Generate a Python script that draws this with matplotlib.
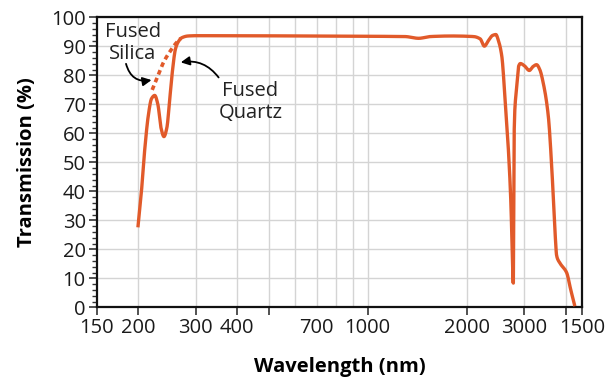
import matplotlib
matplotlib.use("Agg")
import matplotlib.pyplot as plt
import numpy as np

# fused quartz transmission curve (wavelength nm, %)
quartz_nm = [200, 205, 210, 215, 220, 225, 230, 235, 240, 245, 250, 255, 260, 265,
             272, 284, 300, 1000, 1300, 1430, 1550, 1800, 2100, 2200, 2265, 2330,
             2400, 2455, 2500, 2559, 2619, 2680, 2725, 2760, 2774, 2782, 2791, 2810,
             2830, 2860, 2880, 2915, 3000, 3104, 3180, 3266, 3340, 3420, 3545, 3630,
             3717, 3760, 3850, 4030, 4150, 4270]
quartz_t = [27.6, 40, 55, 66, 72, 73.1, 70, 62, 58.9, 62, 72, 82, 89, 91.5,
            93.0, 93.6, 93.7, 93.5, 93.4, 92.8, 93.4, 93.6, 93.4, 92.6, 90.1, 92.0,
            93.8, 94.1, 92.0, 86.7, 71.7, 54.5, 37.2, 15.0, 7.4, 30.0, 60.2, 70.0,
            74.0, 80.0, 83.2, 84.1, 83.3, 81.7, 83.0, 83.7, 82.0, 77.5, 66.0, 48.7,
            25.7, 17.7, 15.2, 12.0, 6.0, 0.4]

# fused silica, UV part only (dotted)
silica_nm = [221, 231, 239, 253, 262, 270]
silica_t = [75.0, 80.3, 84.4, 89.0, 91.3, 92.8]

xticks = [150, 200, 300, 400, 500, 700, 1000, 2000, 3000, 4000, 4500]
xlabels = ["150", "200", "300", "400", "", "700", "1000", "2000", "3000", "", "1500"]
xgrid = [200, 300, 400, 500, 600, 700, 800, 900, 1000, 2000, 3000, 4000]


def pchip(x, y, xn):
    # monotone cubic (Fritsch-Carlson)
    x = np.asarray(x, float); y = np.asarray(y, float)
    h = np.diff(x); d = np.diff(y) / h
    m = np.zeros_like(y)
    for k in range(1, len(x) - 1):
        if d[k - 1] * d[k] > 0:
            w1 = 2 * h[k] + h[k - 1]; w2 = h[k] + 2 * h[k - 1]
            m[k] = (w1 + w2) / (w1 / d[k - 1] + w2 / d[k])
    m[0] = d[0]; m[-1] = d[-1]
    i = np.clip(np.searchsorted(x, xn) - 1, 0, len(h) - 1)
    t = (xn - x[i]) / h[i]
    h00 = 2*t**3 - 3*t**2 + 1; h10 = t**3 - 2*t**2 + t
    h01 = -2*t**3 + 3*t**2; h11 = t**3 - t**2
    return h00*y[i] + h10*h[i]*m[i] + h01*y[i+1] + h11*h[i]*m[i+1]


def smooth(nm, t, n=1500):
    lx = np.log10(nm)
    xs = np.linspace(lx[0], lx[-1], n)
    return 10**xs, pchip(lx, t, xs)


plt.rcParams['font.family'] = ['Open Sans', 'DejaVu Sans']
color = '#e15a2a'
fs = 14.5

fig = plt.figure(figsize=(6.13, 3.79), dpi=100)
ax = fig.add_axes([0.158, 0.189, 0.792, 0.765])

qx, qy = smooth(quartz_nm, quartz_t)
ax.plot(qx, qy, color=color, lw=2.4, solid_capstyle='butt', zorder=3)
sx, sy = smooth(silica_nm, silica_t, 200)
ax.plot(sx, sy, color=color, lw=2.6, ls=(0, (1.3, 1.0)), zorder=3)

ax.set_xscale('log')
ax.set_xlim(150, 4500)
ax.set_ylim(0, 100)

ax.set_xticks(xticks)
ax.set_xticklabels(xlabels)
ax.xaxis.set_minor_locator(matplotlib.ticker.NullLocator())
for tk, v in zip(ax.xaxis.get_major_ticks(), xticks):
    if v == 700:
        tk.tick1line.set_visible(False)
for g in xgrid:
    ax.axvline(g, color='#d4d4d4', lw=1.0, zorder=0)

ax.set_yticks(np.arange(0, 101, 10))
ax.set_yticks(np.arange(0, 101, 2), minor=True)
ax.yaxis.grid(True, which='major', color='#d4d4d4', lw=1.0)
ax.set_axisbelow(True)

ax.tick_params(axis='both', which='major', labelsize=fs, length=6, width=1.2,
               color='#333333', direction='out', pad=2)
ax.tick_params(axis='y', which='minor', length=3.5, width=1.0, color='#333333')
ax.tick_params(labelcolor='#1a1a1a')
for s in ax.spines.values():
    s.set_linewidth(1.6)
    s.set_color('#111111')

ax.set_xlabel('Wavelength (nm)', fontsize=fs, fontweight='bold', labelpad=13)
ax.set_ylabel('Transmission (%)', fontsize=fs, fontweight='bold', labelpad=10)

ax.text(193, 91.2, 'Fused\nSilica', ha='center', va='center', fontsize=fs,
        color='#222222', linespacing=1.15)
ax.annotate('', xy=(220, 78.4), xytext=(184, 84.0),
            arrowprops=dict(arrowstyle='-|>', color='black', lw=1.3,
                            mutation_scale=13, shrinkA=0, shrinkB=0,
                            connectionstyle='arc3,rad=0.45'))
ax.text(440, 70.8, 'Fused\nQuartz', ha='center', va='center', fontsize=fs,
        color='#222222', linespacing=1.15)
ax.annotate('', xy=(270, 84.5), xytext=(352, 79.3),
            arrowprops=dict(arrowstyle='-|>', color='black', lw=1.3,
                            mutation_scale=13, shrinkA=0, shrinkB=0,
                            connectionstyle='arc3,rad=0.3'))

fig.savefig('out.png', dpi=100)
